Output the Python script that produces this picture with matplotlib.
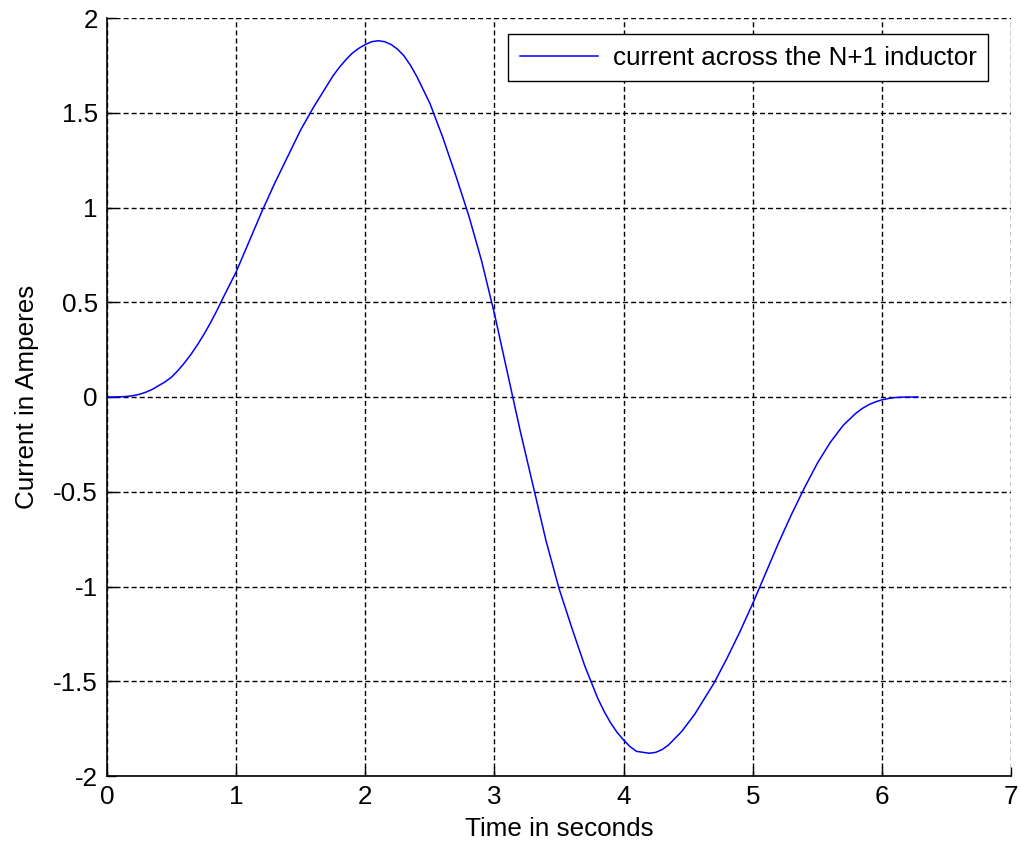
import numpy as np
import matplotlib
matplotlib.use('Agg')
import matplotlib.pyplot as plt

plt.rcParams['font.family'] = ['Liberation Sans', 'DejaVu Sans']
plt.rcParams['axes.unicode_minus'] = False

# Current through the N+1 inductor over one period
t = [0.0, 0.05, 0.1, 0.15, 0.2, 0.25, 0.3, 0.35, 0.4, 0.45,
     0.5, 0.55, 0.6, 0.65, 0.7, 0.75, 0.8, 0.85, 0.9,
     1.0, 1.1, 1.2, 1.3, 1.4, 1.5, 1.6, 1.7, 1.75, 1.8, 1.85, 1.9,
     1.95, 2.0, 2.05, 2.1, 2.15, 2.2, 2.25, 2.3, 2.35, 2.4, 2.45, 2.5,
     2.6, 2.7, 2.8, 2.9, 3.0, 3.1, 3.2, 3.3, 3.4, 3.5, 3.6, 3.7,
     3.8, 3.85, 3.9, 3.95, 4.0, 4.05, 4.1, 4.15, 4.2, 4.25, 4.3, 4.35,
     4.4, 4.45, 4.5, 4.55, 4.6, 4.7, 4.8, 4.9,
     5.0, 5.1, 5.2, 5.3, 5.4, 5.5, 5.6, 5.7, 5.8, 5.85, 5.9, 5.95,
     6.0, 6.05, 6.1, 6.15, 6.2, 6.28]
current = [0.0, 0.0, 0.001, 0.003, 0.007, 0.014, 0.025, 0.04, 0.06, 0.08,
           0.105, 0.14, 0.18, 0.225, 0.275, 0.33, 0.39, 0.455, 0.525,
           0.66, 0.82, 0.98, 1.13, 1.27, 1.41, 1.53, 1.64, 1.695, 1.74, 1.78, 1.815,
           1.84, 1.86, 1.875, 1.88, 1.875, 1.86, 1.835, 1.80, 1.75, 1.69, 1.62, 1.55,
           1.37, 1.17, 0.96, 0.72, 0.44, 0.13, -0.18, -0.47, -0.76, -1.01, -1.22, -1.42,
           -1.59, -1.66, -1.72, -1.77, -1.81, -1.845, -1.87, -1.875, -1.88, -1.875, -1.86, -1.835,
           -1.80, -1.765, -1.72, -1.675, -1.62, -1.51, -1.38, -1.24,
           -1.09, -0.93, -0.77, -0.62, -0.48, -0.35, -0.24, -0.15, -0.085, -0.06, -0.04, -0.026,
           -0.015, -0.008, -0.003, -0.001, 0.0, 0.0]

xticks = [0, 1, 2, 3, 4, 5, 6, 7]
yticks = [-2, -1.5, -1, -0.5, 0, 0.5, 1, 1.5, 2]
ytick_labels = ['-2', '-1.5', '-1', '-0.5', '0', '0.5', '1', '1.5', '2']

fs = 18.7

fig = plt.figure(figsize=(10.21, 8.51), dpi=100)
ax = fig.add_axes([107 / 1021, 75 / 851, 904 / 1021, 758 / 851])

ax.plot(t, current, color='#0000ff', linewidth=1.1,
        label='current across the N+1 inductor')

ax.set_xlim(0, 7)
ax.set_ylim(-2, 2)
ax.set_xticks(xticks)
ax.set_xticklabels([str(v) for v in xticks])
ax.set_yticks(yticks)
ax.set_yticklabels(ytick_labels)

# dashed black grid, also closes the box on the top and right
ax.grid(True, color='black', linewidth=1.0, linestyle=(0, (3.6, 2.2)))
ax.set_axisbelow(True)

for side in ['top', 'right']:
    ax.spines[side].set_visible(False)
for side in ['left', 'bottom']:
    ax.spines[side].set_linewidth(1.2)

ax.tick_params(direction='in', length=6.5, width=1.0, labelsize=fs, pad=6.5,
               top=False, right=False)

ax.set_xlabel('Time in seconds', fontsize=fs)
ax.set_ylabel('Current in Amperes', fontsize=fs)
ax.xaxis.set_label_coords(0.5, -0.054)
ax.yaxis.set_label_coords(-0.075, 0.5)

leg = ax.legend(loc='upper left', bbox_to_anchor=(508 / 1021, 1 - 34 / 851),
                bbox_transform=fig.transFigure, borderaxespad=0,
                fontsize=fs, handlelength=3.0, handletextpad=0.58,
                borderpad=0.45, fancybox=False, framealpha=1)
leg.get_frame().set_edgecolor('black')
leg.get_frame().set_linewidth(1.0)

fig.savefig('out.png', dpi=100)
